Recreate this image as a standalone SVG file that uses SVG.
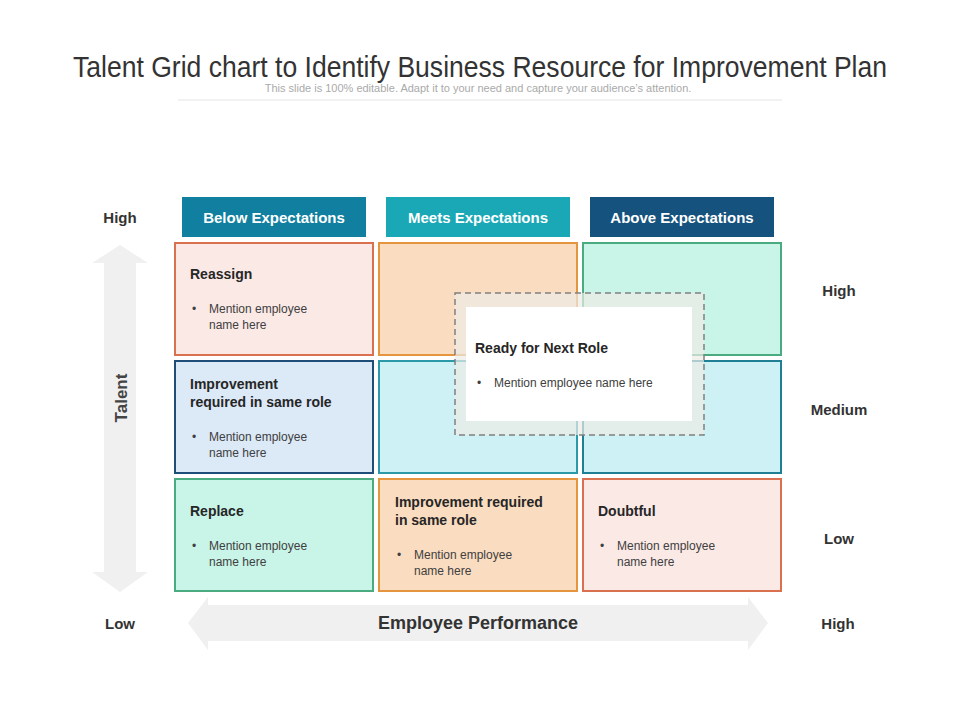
<svg xmlns="http://www.w3.org/2000/svg" width="960" height="720" viewBox="0 0 960 720">
<style>
text{font-family:"Liberation Sans",Arial,sans-serif}
.hd{fill:#fff;font-size:15px;font-weight:bold;text-anchor:middle}
.ax{fill:#333;font-size:15px;font-weight:bold}
.t{fill:#262626;font-size:14px;font-weight:bold}
.b{fill:#404040;font-size:12px}
.c{stroke-width:2}
</style>
<rect width="960" height="720" fill="#fff"/>
<text x="480" y="77" text-anchor="middle" font-family="'DejaVu Sans Condensed',sans-serif" font-size="29" fill="#333" textLength="814" lengthAdjust="spacingAndGlyphs">Talent Grid chart to Identify Business Resource for Improvement Plan</text>
<text x="478" y="92" text-anchor="middle" font-size="11" fill="#aaa">This slide is 100% editable. Adapt it to your need and capture your audience’s attention.</text>
<line x1="178" y1="100" x2="782" y2="100" stroke="#eee" stroke-width="1.5"/>
<g id="arrows" fill="#f0f0f0">
<polygon points="120,245 148,263 136,263 136,572 148,572 120,592 92,572 104,572 104,263 92,263"/>
<polygon points="188,623 208,597 208,605 748,605 748,597 768,623 748,650 748,641 208,641 208,650"/>
</g>
<g id="labels">
<text class="ax" x="120" y="223" text-anchor="middle">High</text>
<text class="ax" x="120" y="629" text-anchor="middle" font-weight="normal">Low</text>
<text class="ax" x="838" y="629" text-anchor="middle" fill="#111">High</text>
<text class="ax" x="839" y="296" text-anchor="middle" font-weight="normal">High</text>
<text class="ax" x="839" y="415" text-anchor="middle" font-weight="normal">Medium</text>
<text class="ax" x="839" y="544" text-anchor="middle" font-weight="normal">Low</text>
<text x="127" y="398" transform="rotate(-90 127 398)" text-anchor="middle" font-size="17" font-weight="bold" fill="#444">Talent</text>
<text x="478" y="629" text-anchor="middle" font-size="18" font-weight="bold" fill="#333">Employee Performance</text>
</g>
<g id="headers">
<rect x="182" y="197" width="184" height="40" fill="#117fa0"/><text class="hd" x="274" y="223">Below Expectations</text>
<rect x="386" y="197" width="184" height="40" fill="#1ba8b6"/><text class="hd" x="478" y="223">Meets Expectations</text>
<rect x="590" y="197" width="184" height="40" fill="#16527e"/><text class="hd" x="682" y="223">Above Expectations</text>
</g>
<g id="r1c1"><rect class="c" x="175" y="243" width="198" height="112" fill="#fbe9e6" stroke="#d9704f"/>
<text class="t" x="190" y="279">Reassign</text><text class="b" x="192" y="313">•</text><text class="b" x="209" y="313">Mention employee</text><text class="b" x="209" y="329">name here</text></g>
<g id="r1c2"><rect class="c" x="379" y="243" width="198" height="112" fill="#fadcc0" stroke="#e6953f"/></g>
<g id="r1c3"><rect class="c" x="583" y="243" width="198" height="112" fill="#c9f4e8" stroke="#4aaa80"/></g>
<g id="r2c1"><rect class="c" x="175" y="361" width="198" height="112" fill="#dce9f7" stroke="#1f4e79"/>
<text class="t" x="190" y="389">Improvement</text><text class="t" x="190" y="407">required in same role</text><text class="b" x="192" y="441">•</text><text class="b" x="209" y="441">Mention employee</text><text class="b" x="209" y="457">name here</text></g>
<g id="r2c2"><rect class="c" x="379" y="361" width="198" height="112" fill="#cdf1f4" stroke="#2a9aa8"/></g>
<g id="r2c3"><rect class="c" x="583" y="361" width="198" height="112" fill="#cdf1f4" stroke="#1f7f95"/></g>
<g id="r3c1"><rect class="c" x="175" y="479" width="198" height="112" fill="#c9f4e8" stroke="#4aaa80"/>
<text class="t" x="190" y="516">Replace</text><text class="b" x="192" y="550">•</text><text class="b" x="209" y="550">Mention employee</text><text class="b" x="209" y="566">name here</text></g>
<g id="r3c2"><rect class="c" x="379" y="479" width="198" height="112" fill="#fadcc0" stroke="#e6953f"/>
<text class="t" x="395" y="507">Improvement required</text><text class="t" x="395" y="525">in same role</text><text class="b" x="397" y="559">•</text><text class="b" x="414" y="559">Mention employee</text><text class="b" x="414" y="575">name here</text></g>
<g id="r3c3"><rect class="c" x="583" y="479" width="198" height="112" fill="#fbe9e6" stroke="#d9704f"/>
<text class="t" x="598" y="516">Doubtful</text><text class="b" x="600" y="550">•</text><text class="b" x="617" y="550">Mention employee</text><text class="b" x="617" y="566">name here</text></g>
<g id="ready">
<rect x="455" y="293" width="249" height="142" fill="#ecebe6" fill-opacity="0.7" stroke="#808080" stroke-width="1.5" stroke-dasharray="6,4"/>
<rect x="466" y="307" width="226" height="114" fill="#fff"/>
<text class="t" x="475" y="353" font-size="13">Ready for Next Role</text>
<text class="b" x="477" y="387">•</text><text class="b" x="494" y="387">Mention employee name here</text>
</g>
</svg>
